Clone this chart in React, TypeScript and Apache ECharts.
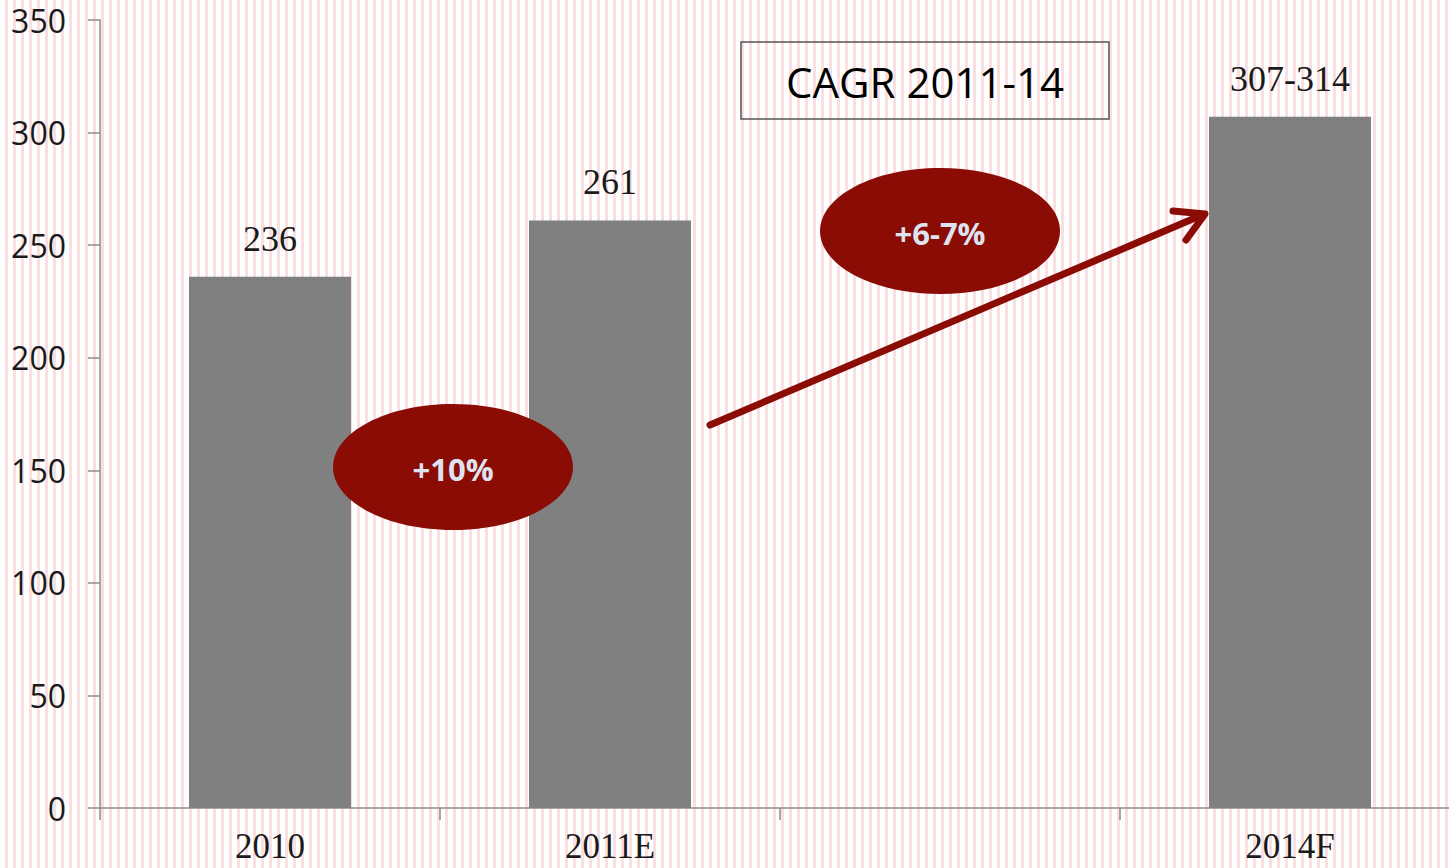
import React, { useEffect, useRef } from "react";
import * as echarts from "echarts";

const categories = ["2010", "2011E", "", "2014F"];
const values: (number | null)[] = [236, 261, null, 307];
const barLabels = ["236", "261", "", "307-314"];
const yTicks = { min: 0, max: 350, interval: 50 };
const badges = [
  { text: "+10%", cx: 453, cy: 467 },
  { text: "+6-7%", cx: 940, cy: 231 },
];
const boxTitle = "CAGR 2011-14";

const RED = "#8b0c04";

export default function App() {
  const ref = useRef<HTMLDivElement>(null);
  useEffect(() => {
    if (!ref.current) return;
    const chart = echarts.init(ref.current, null, { renderer: "svg" });
    const Z = 100;
    const option: any = {
      animation: false,
      grid: { left: 100, top: 20, right: 0, bottom: 60, containLabel: false },
      xAxis: {
        type: "category",
        data: categories,
        axisLine: { show: true, lineStyle: { color: "#8c8c8c", width: 1.5 } },
        axisTick: { show: true, length: 12, lineStyle: { color: "#8c8c8c", width: 1.5 } },
        axisLabel: {
          margin: 21,
          fontFamily: "Liberation Serif",
          fontSize: 35,
          lineHeight: 35,
          color: "#1a1a1a",
        },
      },
      yAxis: {
        type: "value",
        min: yTicks.min,
        max: yTicks.max,
        interval: yTicks.interval,
        splitLine: { show: false },
        axisLine: { show: true, lineStyle: { color: "#8c8c8c", width: 1.5 } },
        axisTick: { show: true, length: 12, inside: false, lineStyle: { color: "#8c8c8c", width: 1.5 } },
        axisLabel: {
          margin: 34,
          fontFamily: "Open Sans",
          fontSize: 32,
          color: "#1a1a1a",
        },
      },
      series: [
        {
          type: "bar",
          data: values,
          barWidth: 162,
          itemStyle: { color: "#808080" },
          z: 2,
          label: {
            show: true,
            position: "top",
            distance: 20,
            fontFamily: "Liberation Serif",
            fontSize: 36,
            color: "#1a1a1a",
            formatter: (p: any) => barLabels[p.dataIndex],
          },
        },
      ],
      graphic: [
        {
          type: "rect",
          z: Z,
          shape: { x: 741, y: 42, width: 368, height: 77 },
          style: { fill: "none", stroke: "#555555", lineWidth: 1.5 },
        },
        {
          type: "text",
          z: Z,
          x: 925,
          y: 81,
          style: {
            text: boxTitle,
            font: '42px "Open Sans"',
            fill: "#000",
            align: "center",
            verticalAlign: "middle",
          },
        },
        {
          type: "line",
          z: Z,
          shape: { x1: 710, y1: 425, x2: 1202, y2: 215 },
          style: { stroke: RED, lineWidth: 7, lineCap: "round" },
        },
        {
          type: "polyline",
          z: Z,
          shape: { points: [[1173, 211], [1205, 214], [1186, 240]] },
          style: { stroke: RED, lineWidth: 7, lineCap: "round", lineJoin: "round", fill: "none" },
        },
        ...badges.flatMap((b) => [
          {
            type: "ellipse",
            z: Z,
            shape: { cx: b.cx, cy: b.cy, rx: 120, ry: 63 },
            style: { fill: RED },
          },
          {
            type: "text",
            z: Z + 1,
            x: b.cx,
            y: b.cy + 2,
            style: {
              text: b.text,
              font: 'bold 31px "Open Sans"',
              fill: "#dde3f0",
              align: "center",
              verticalAlign: "middle",
            },
          },
        ]),
      ],
    };
    chart.setOption(option);
    return () => chart.dispose();
  }, []);
  return (
    <div
      style={{
        position: "fixed",
        left: 0,
        top: 0,
        width: 1449,
        height: 868,
        overflow: "hidden",
        backgroundColor: "#ffffff",
        backgroundImage:
          "repeating-linear-gradient(90deg, #ffffff 0px, #ffffff 5px, #f9dfe2 5px, #f9dfe2 8px)",
      }}
    >
      <div ref={ref} style={{ width: 1460, height: 868 }} />
    </div>
  );
}
